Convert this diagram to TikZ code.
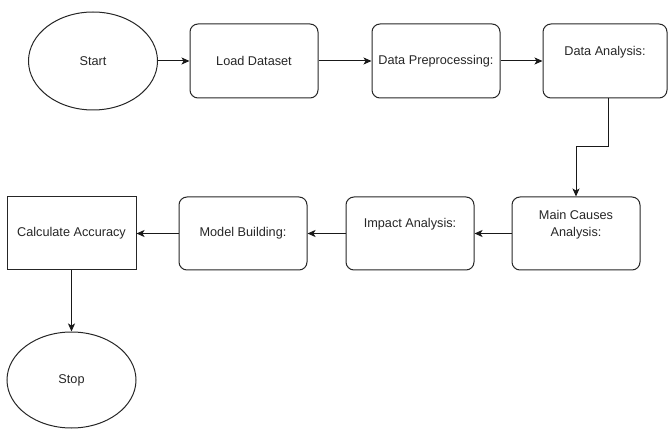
\documentclass[tikz,border=0pt]{standalone}
\usepackage{fontspec}
\setmainfont{Liberation Sans}
\usetikzlibrary{shapes.geometric,arrows.meta,calc}
\begin{document}
\begin{tikzpicture}[x=1pt,y=-1pt,
  every node/.style={font=\fontsize{12.7}{17}\selectfont, text=black!85},
  rbox/.style={draw=black!85, line width=1pt, rounded corners=8pt, minimum width=128pt, minimum height=74pt, inner sep=0pt, align=center},
  sbox/.style={draw=black!85, line width=1pt, minimum width=129pt, minimum height=73pt, inner sep=0pt, align=center},
  oval/.style={draw=black!85, line width=1pt, ellipse, minimum width=129pt, minimum height=98pt, inner sep=0pt},
  txt/.style={inner sep=0pt, align=center},
  conn/.style={draw=black!90, line width=1pt, -{Stealth[length=8pt,width=7pt,inset=2pt]}}
]
\useasboundingbox (0,0) rectangle (669,430);
\node[oval] (start) at (93,61) {Start};
\node[rbox] (load) at (254,61) {Load Dataset};
\node[rbox] (prep) at (436,61) {Data Preprocessing:};
\node[rbox, minimum width=124pt] (da) at (605,61) {};
\node[txt] (datxt) at (605,52) {Data Analysis:};
\node[rbox, minimum height=73pt] (main) at (576,233.5) {};
\node[txt] (maintxt) at (576,224.5) {Main Causes\\Analysis:};
\node[rbox, minimum height=73pt] (impact) at (410,233.5) {};
\node[txt] (imptxt) at (410,224) {Impact Analysis:};
\node[rbox, minimum height=73pt] (model) at (243,233.5) {Model Building:};
\node[sbox] (calc) at (71.5,233.5) {Calculate Accuracy};
\node[oval, minimum height=96pt] (stop) at (71.5,380) {Stop};
\coordinate (b0) at ($(da.south)+(3,0)$);
\coordinate (b1) at (608,147);
\coordinate (b2) at (576,147);
\draw[conn] (start) -- (load);
\draw[conn] (load) -- (prep);
\draw[conn] (prep.east) -- (prep.east -| da.west);
\draw[conn] (b0) -- (b1) -- (b2) -- (main.north);
\draw[conn] (main) -- (impact);
\draw[conn] (impact) -- (model);
\draw[conn] (model) -- (calc);
\draw[conn] (calc) -- (stop);
\end{tikzpicture}
\end{document}
